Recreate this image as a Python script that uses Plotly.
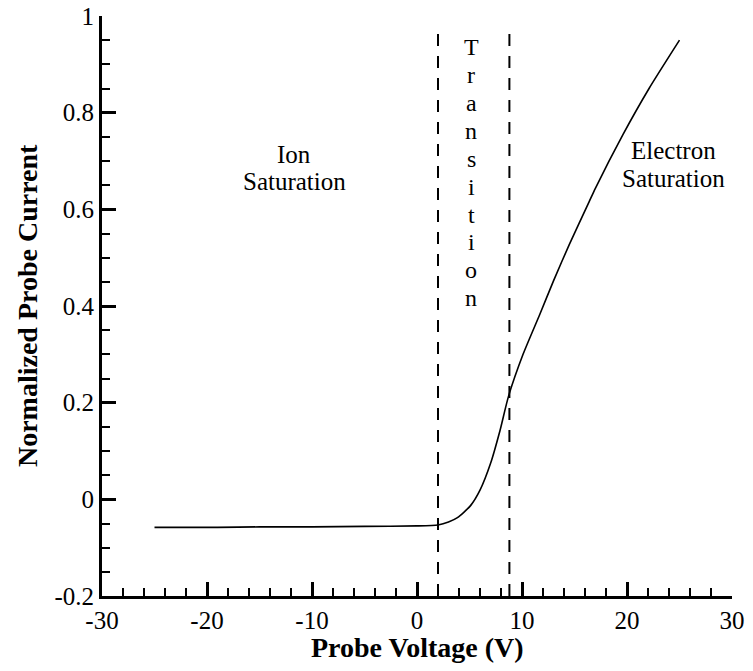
import plotly.graph_objects as go

# probe I-V characteristic
voltage = [-25, -19, -15, -10, -5, 0, 2, 3, 3.85, 5.1, 6.0, 7.0, 7.9, 8.7,
           10.1, 11.7, 13.0, 14.5, 16.4, 17.0, 19.6, 22.1, 25]
current = [-0.058, -0.058, -0.057, -0.057, -0.056, -0.055, -0.053, -0.047, -0.038,
           -0.013, 0.019, 0.074, 0.142, 0.212,
           0.300, 0.383, 0.452, 0.527, 0.616, 0.644, 0.754, 0.850, 0.950]

boundaries = [2.0, 8.8]  # transition region limits (V)

x_ticks = [-30, -20, -10, 0, 10, 20, 30]
x_ticktext = ["-30", "-20", "-10", "0", "10", "20", "30"]
y_ticks = [-0.2, 0, 0.2, 0.4, 0.6, 0.8, 1]
y_ticktext = ["-0.2", "0", "0.2", "0.4", "0.6", "0.8", "1"]

FONT = "Liberation Serif"

fig = go.Figure()

for xb in boundaries:
    fig.add_trace(
        go.Scatter(
            x=[xb, xb],
            y=[-0.2, 0.975],
            mode="lines",
            line={"color": "black", "width": 2, "dash": "12px,10px"},
            showlegend=False,
            hoverinfo="skip",
        )
    )

fig.add_trace(
    go.Scatter(
        x=voltage,
        y=current,
        mode="lines",
        line={"color": "black", "width": 1.6, "shape": "spline", "smoothing": 0.6},
        showlegend=False,
    )
)


def stacked_text(lines, x, y_top, step, size=25):
    for i, s in enumerate(lines):
        fig.add_annotation(
            x=x, y=y_top - i * step, text=s, showarrow=False,
            xanchor="center", yanchor="middle",
            font={"family": FONT, "size": size, "color": "black"},
        )


stacked_text(["Ion", "Saturation"], -11.7, 0.713, 0.056)
stacked_text(["Electron", "Saturation"], 24.4, 0.722, 0.058)
stacked_text(list("Transition"), 5.15, 0.936, 0.0578, size=24)

axis_common = dict(
    showline=True, linecolor="black", linewidth=3, mirror=False,
    ticks="inside", ticklen=14, tickwidth=3, tickcolor="black",
    showgrid=False, zeroline=False, automargin=False, ticklabeloverflow="allow",
    tickfont={"family": FONT, "size": 25, "color": "black"},
)

fig.update_xaxes(
    range=[-30, 30], tickvals=x_ticks, ticktext=x_ticktext,
    minor={"ticks": "inside", "dtick": 2, "ticklen": 8, "tickwidth": 1.5, "tickcolor": "black"},
    **axis_common,
)
fig.update_yaxes(
    range=[-0.2, 1], tickvals=y_ticks, ticktext=y_ticktext,
    minor={"ticks": "inside", "dtick": 0.05, "ticklen": 8, "tickwidth": 1.5, "tickcolor": "black"},
    **axis_common,
)

# axis titles placed as paper annotations
fig.add_annotation(
    x=0.5, y=-0.088, xref="paper", yref="paper", xanchor="center", yanchor="middle",
    text="<b>Probe Voltage (V)</b>", showarrow=False,
    font={"family": FONT, "size": 28, "color": "black"},
)
fig.add_annotation(
    x=-0.119, y=0.5, xref="paper", yref="paper", xanchor="center", yanchor="middle",
    text="<b>Normalized Probe Current</b>", showarrow=False, textangle=-90,
    font={"family": FONT, "size": 28, "color": "black"},
)

# page body adds an 8px margin all round, so the figure is sized to fit inside the window
fig.update_layout(
    width=737, height=655,
    plot_bgcolor="white", paper_bgcolor="white",
    margin={"l": 94, "r": 13, "t": 8, "b": 67},
    showlegend=False,
)

fig.write_html("out.html")
